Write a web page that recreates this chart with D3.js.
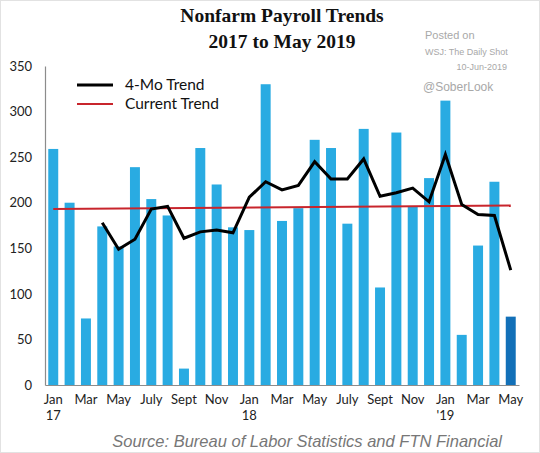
<!DOCTYPE html>
<html>
<head>
<meta charset="utf-8">
<script src="https://cdn.jsdelivr.net/npm/d3@7"></script>
<style>
  body { margin: 0; background: #fff; }
  svg { display: block; }
</style>
</head>
<body>
<div id="chart"></div>
<script>
  // monthly payroll changes, Jan 2017 .. May 2019 (thousands)
  var months = ['Jan 17','Feb 17','Mar 17','Apr 17','May 17','Jun 17','Jul 17','Aug 17','Sep 17','Oct 17','Nov 17','Dec 17',
                'Jan 18','Feb 18','Mar 18','Apr 18','May 18','Jun 18','Jul 18','Aug 18','Sep 18','Oct 18','Nov 18','Dec 18',
                'Jan 19','Feb 19','Mar 19','Apr 19','May 19'];
  var payrolls = [259, 200, 73, 174, 152, 239, 204, 186, 18, 260, 220, 173,
                  170, 330, 180, 194, 269, 260, 177, 281, 107, 277, 196, 227,
                  312, 55, 153, 223, 75];
  var fourMoTrend = [null, null, null, 178, 149, 160, 193, 196, 161, 168, 170, 167,
                     206, 223, 214, 219, 245, 226, 226, 248, 207, 211, 216, 201,
                     253, 198, 187, 186, 126];
  var currentTrend = [193, 197];   // value at first and last month
  var tickLabels = ['Jan', '', 'Mar', '', 'May', '', 'July', '', 'Sept', '', 'Nov', '',
                    'Jan', '', 'Mar', '', 'May', '', 'July', '', 'Sept', '', 'Nov', '',
                    'Jan', '', 'Mar', '', 'May'];
  var yearLabels = {0: '17', 12: '18', 24: "'19"};
  var yTicks = [0, 50, 100, 150, 200, 250, 300, 350];

  var WIDTH = 540;
  var HEIGHT = 453;
  var BAR = '#29abe2';
  var BAR_LAST = '#1270b8';

  var svg = d3.select('#chart')
      .append('svg')
      .attr('width', WIDTH)
      .attr('height', HEIGHT);

  svg.append('rect')
      .attr('x', 0.5).attr('y', 0.5)
      .attr('width', WIDTH - 1).attr('height', HEIGHT - 1)
      .attr('fill', '#fff')
      .attr('stroke', '#e2e2e2');

  var x = d3.scaleBand()
      .domain(d3.range(months.length))
      .range([45, 519])
      .paddingInner(0.39)
      .paddingOuter(0.2);

  var y = d3.scaleLinear()
      .domain([0, 350])
      .range([385, 66]);

  function cx(i) { return x(i) + x.bandwidth() / 2; }

  // bars
  svg.append('g')
      .selectAll('rect')
      .data(payrolls)
      .enter()
      .append('rect')
      .attr('x', function (d, i) { return x(i); })
      .attr('y', function (d) { return y(d); })
      .attr('width', x.bandwidth())
      .attr('height', function (d) { return y(0) - y(d); })
      .attr('fill', function (d, i) { return i === payrolls.length - 1 ? BAR_LAST : BAR; });

  // axes
  var yAxis = svg.append('g')
      .attr('transform', 'translate(45,0)')
      .call(d3.axisLeft(y).tickValues(yTicks).tickSize(0).tickSizeOuter(0).tickPadding(13));
  yAxis.select('.domain').attr('stroke', '#8c8c8c').attr('stroke-width', 1.2);
  yAxis.selectAll('text')
      .attr('font-family', 'Lato, "Open Sans", sans-serif')
      .attr('font-size', 13)
      .attr('fill', '#222');

  var xAxis = svg.append('g')
      .attr('transform', 'translate(0,385)')
      .call(d3.axisBottom(x).tickSize(0).tickSizeOuter(0).tickPadding(10)
          .tickFormat(function (i) { return tickLabels[i]; }));
  xAxis.select('.domain').attr('stroke', '#8c8c8c').attr('stroke-width', 1.2);
  xAxis.selectAll('text')
      .attr('font-family', 'Lato, "Open Sans", sans-serif')
      .attr('font-size', 13)
      .attr('fill', '#222')
      .each(function (i) {
          if (yearLabels[i] !== undefined) {
              d3.select(this).append('tspan')
                  .attr('x', 0)
                  .attr('dy', '1.25em')
                  .text(yearLabels[i]);
          }
      });

  // current trend (red)
  svg.append('line')
      .attr('x1', cx(0))
      .attr('y1', y(currentTrend[0]))
      .attr('x2', cx(months.length - 1))
      .attr('y2', y(currentTrend[1]))
      .attr('stroke', '#c8252c')
      .attr('stroke-width', 2);

  // 4-month trend (black)
  var line = d3.line()
      .defined(function (d) { return d !== null; })
      .x(function (d, i) { return cx(i); })
      .y(function (d) { return y(d); });

  svg.append('path')
      .datum(fourMoTrend)
      .attr('d', line)
      .attr('fill', 'none')
      .attr('stroke', '#000')
      .attr('stroke-width', 3)
      .attr('stroke-linejoin', 'miter');

  // legend
  var legend = [
      {label: '4-Mo Trend', color: '#000', w: 3, y: 85},
      {label: 'Current Trend', color: '#c8252c', w: 2, y: 104}
  ];
  var lg = svg.append('g').selectAll('g').data(legend).enter().append('g');
  lg.append('line')
      .attr('x1', 77).attr('x2', 113)
      .attr('y1', function (d) { return d.y; })
      .attr('y2', function (d) { return d.y; })
      .attr('stroke', function (d) { return d.color; })
      .attr('stroke-width', function (d) { return d.w; });
  lg.append('text')
      .attr('x', 125)
      .attr('y', function (d) { return d.y + 5; })
      .attr('font-family', 'Lato, "Open Sans", sans-serif')
      .attr('font-size', 15.5)
      .attr('fill', '#111')
      .text(function (d) { return d.label; });

  // titles
  svg.append('text')
      .attr('x', 282).attr('y', 22)
      .attr('text-anchor', 'middle')
      .attr('font-family', '"Liberation Serif", serif')
      .attr('font-weight', 'bold')
      .attr('font-size', 19.5)
      .attr('fill', '#111')
      .text('Nonfarm Payroll Trends');
  svg.append('text')
      .attr('x', 282).attr('y', 48)
      .attr('text-anchor', 'middle')
      .attr('font-family', '"Liberation Serif", serif')
      .attr('font-weight', 'bold')
      .attr('font-size', 19.5)
      .attr('fill', '#111')
      .text('2017 to May 2019');

  // credits
  var credits = [
      {t: 'Posted on', x: 425, y: 39, s: 11, a: 'start'},
      {t: 'WSJ: The Daily Shot', x: 425, y: 55, s: 9, a: 'start'},
      {t: '10-Jun-2019', x: 507, y: 70, s: 9, a: 'end'},
      {t: '@SoberLook', x: 423, y: 91, s: 12, a: 'start'}
  ];
  svg.append('g').selectAll('text').data(credits).enter().append('text')
      .attr('x', function (d) { return d.x; })
      .attr('y', function (d) { return d.y; })
      .attr('text-anchor', function (d) { return d.a; })
      .attr('font-family', '"Liberation Sans", Arial, sans-serif')
      .attr('font-size', function (d) { return d.s; })
      .attr('fill', '#a8a8a8')
      .text(function (d) { return d.t; });

  svg.append('text')
      .attr('x', 502).attr('y', 447)
      .attr('text-anchor', 'end')
      .attr('font-family', '"Liberation Sans", Arial, sans-serif')
      .attr('font-style', 'italic')
      .attr('font-size', 16.5)
      .attr('fill', '#777')
      .text('Source:  Bureau of Labor Statistics and FTN Financial');
</script>
</body>
</html>
